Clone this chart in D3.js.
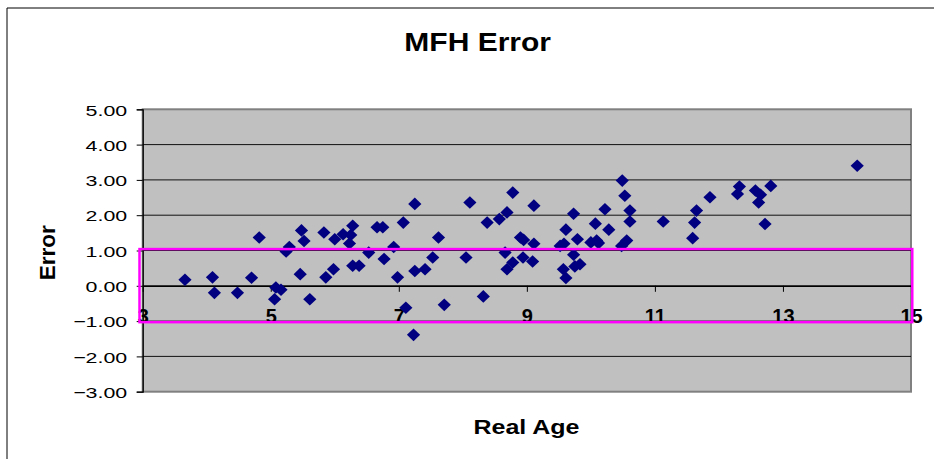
<!DOCTYPE html>
<html>
<head>
<meta charset="utf-8">
<script src="https://cdn.jsdelivr.net/npm/d3@7"></script>
<style>
  body { margin: 0; background: #fff; }
  text { font-family: Arial, "Liberation Sans", sans-serif; }
</style>
</head>
<body>
<div id="chart"></div>
<script>
// real age (x) and error (y)
const realAge = [3.66, 4.09, 4.12, 4.48, 4.70, 4.82,
  5.06, 5.08, 5.16, 5.24, 5.29, 5.46, 5.48, 5.52, 5.61, 5.83, 5.86, 5.98, 6.00,
  6.13, 6.23, 6.25, 6.28, 6.28, 6.38, 6.53, 6.66, 6.75, 6.77, 6.92, 6.98,
  7.07, 7.11, 7.23, 7.25, 7.25, 7.41, 7.53, 7.62, 7.71,
  8.05, 8.11, 8.32, 8.38, 8.57, 8.66, 8.69, 8.69, 8.78, 8.78, 8.90, 8.95, 8.94,
  9.09, 9.11, 9.11, 9.52, 9.58, 9.57, 9.61, 9.61, 9.73, 9.73, 9.75, 9.79, 9.83,
  10.00, 10.07, 10.09, 10.12, 10.22, 10.28, 10.49, 10.53, 10.48, 10.56, 10.61, 10.61,
  11.13, 11.59, 11.62, 11.65, 11.86, 12.29, 12.32, 12.57, 12.65, 12.62, 12.72, 12.81,
  14.16]
const errorVals = [0.17, 0.24, -0.20, -0.20, 0.23, 1.37,
  -0.38, -0.05, -0.11, 0.97, 1.10, 0.33, 1.57, 1.27, -0.38, 1.51, 0.24, 0.47, 1.32,
  1.46, 1.20, 1.44, 1.70, 0.57, 0.57, 0.94, 1.66, 1.66, 0.76, 1.10, 0.24,
  1.79, -0.62, -1.39, 2.32, 0.42, 0.47, 0.80, 1.37, -0.54,
  0.80, 2.36, -0.30, 1.79, 1.89, 0.94, 2.08, 0.47, 2.64, 0.66, 1.37, 1.30, 0.80,
  0.69, 2.27, 1.19, 1.13, 1.19, 0.47, 0.22, 1.59, 2.04, 0.88, 0.55, 1.32, 0.61,
  1.23, 1.76, 1.28, 1.21, 2.17, 1.59, 2.98, 2.55, 1.13, 1.28, 2.13, 1.82,
  1.82, 1.35, 1.79, 2.13, 2.51, 2.60, 2.81, 2.70, 2.58, 2.36, 1.75, 2.83,
  3.40]

const xTicks = [3, 5, 7, 9, 11, 13, 15]
const yTicks = [5, 4, 3, 2, 1, 0, -1, -2, -3]
// the magenta box drawn over the chart (error band)
const bandAge = [2.95, 15.02]
const bandError = [1.04, -1.03]

const width = 934, height = 459
const plot = {left: 142.7, right: 911, top: 109.3, bottom: 391.7}

let svg = d3.select('#chart').append('svg')
  .attr('width', width)
  .attr('height', height)

// outer chart border (only left and top are in the picture)
svg.append('path')
  .attr('d', `M7,${height} L7,8 L${width},8`)
  .attr('fill', 'none')
  .attr('stroke', '#000')
  .attr('stroke-width', 1)

let x = d3.scaleLinear().domain([3, 15]).range([plot.left, plot.right])
let y = d3.scaleLinear().domain([-3, 5]).range([plot.bottom, plot.top])

// grey plot area
svg.append('rect')
  .attr('x', plot.left).attr('y', plot.top)
  .attr('width', plot.right - plot.left).attr('height', plot.bottom - plot.top)
  .attr('fill', '#c0c0c0')
  .attr('stroke', '#808080')
  .attr('stroke-width', 2)

// gridlines
svg.append('g').selectAll('line')
  .data(yTicks.filter(d => d > -3 && d < 5))
  .enter().append('line')
  .attr('x1', plot.left).attr('x2', plot.right)
  .attr('y1', d => y(d)).attr('y2', d => y(d))
  .attr('stroke', '#111')
  .attr('stroke-width', 1)

// y axis, labels stretched wide like the original
let yAxis = svg.append('g')
  .attr('transform', `translate(${plot.left},0)`)
  .call(d3.axisLeft(y).tickValues(yTicks).tickSize(6).tickFormat(d3.format('.2f')))
yAxis.select('.domain').attr('stroke', '#000').attr('stroke-width', 1.3)
yAxis.selectAll('.tick line').attr('stroke', '#000')
yAxis.selectAll('.tick text')
  .attr('x', 0).attr('dy', null).attr('y', 0)
  .attr('font-size', 15.5)
  .attr('fill', '#000')
  .attr('transform', 'translate(-15.5,5.7) scale(1.38,1)')

// x axis crosses at error = 0
let xAxis = svg.append('g')
  .attr('transform', `translate(0,${y(0)})`)
  .call(d3.axisBottom(x).tickValues(xTicks).tickSize(6).tickSizeOuter(0))
xAxis.select('.domain').attr('stroke', '#000').attr('stroke-width', 1.3)
xAxis.selectAll('.tick line').attr('stroke', '#000')
xAxis.selectAll('.tick text')
  .attr('y', 37.5).attr('dy', null)
  .attr('font-size', 20)
  .attr('font-weight', 'bold')
  .attr('fill', '#000')

// diamonds
let pts = realAge.map((a, i) => ({age: a, err: errorVals[i]}))
svg.append('g').selectAll('path')
  .data(pts)
  .enter().append('path')
  .attr('d', 'M0,-6.3L6.6,0L0,6.3L-6.6,0Z')
  .attr('transform', d => `translate(${x(d.age)},${y(d.err)})`)
  .attr('fill', '#000080')

// magenta band box
svg.append('rect')
  .attr('x', x(bandAge[0])).attr('y', y(bandError[0]))
  .attr('width', x(bandAge[1]) - x(bandAge[0]))
  .attr('height', y(bandError[1]) - y(bandError[0]))
  .attr('fill', 'none')
  .attr('stroke', '#ff00ff')
  .attr('stroke-width', 2.5)

// titles
svg.append('text')
  .attr('transform', 'translate(477.7,50.7) scale(1.2,1)')
  .attr('text-anchor', 'middle')
  .attr('font-size', 25)
  .attr('font-weight', 'bold')
  .text('MFH Error')

svg.append('text')
  .attr('transform', 'translate(526.5,434) scale(1.25,1)')
  .attr('text-anchor', 'middle')
  .attr('font-size', 20)
  .attr('font-weight', 'bold')
  .text('Real Age')

svg.append('text')
  .attr('transform', 'translate(55,252.7) rotate(-90)')
  .attr('text-anchor', 'middle')
  .attr('font-size', 22.5)
  .attr('font-weight', 'bold')
  .text('Error')
</script>
</body>
</html>
